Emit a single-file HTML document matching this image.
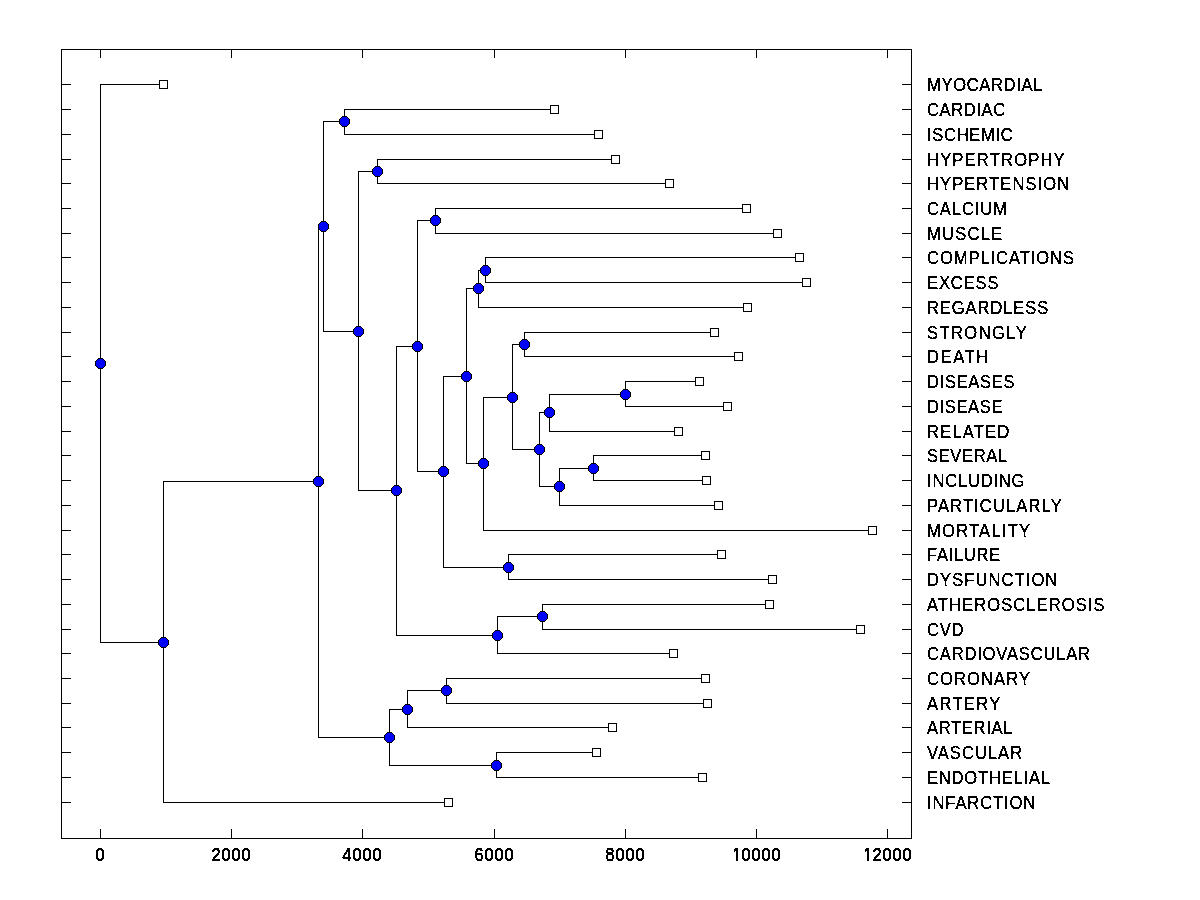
<!DOCTYPE html>
<html><head><meta charset="utf-8"><title>Dendrogram</title>
<style>html,body{margin:0;padding:0;background:#fff;width:1200px;height:900px;overflow:hidden}svg{display:block}</style>
</head><body>
<svg width="1200" height="900" viewBox="0 0 1200 900">
<rect width="1200" height="900" fill="#fff"/>
<g shape-rendering="crispEdges" fill="none" stroke="#000" stroke-width="1">
<rect x="61.5" y="49.5" width="850" height="789"/>
<path d="M100.5 49V58M100.5 839V829M231.5 49V58M231.5 839V829M362.5 49V58M362.5 839V829M494.5 49V58M494.5 839V829M625.5 49V58M625.5 839V829M756.5 49V58M756.5 839V829M887.5 49V58M887.5 839V829M61 84.5H71M912 84.5H902M61 109.5H71M912 109.5H902M61 134.5H71M912 134.5H902M61 159.5H71M912 159.5H902M61 183.5H71M912 183.5H902M61 208.5H71M912 208.5H902M61 233.5H71M912 233.5H902M61 257.5H71M912 257.5H902M61 282.5H71M912 282.5H902M61 307.5H71M912 307.5H902M61 332.5H71M912 332.5H902M61 356.5H71M912 356.5H902M61 381.5H71M912 381.5H902M61 406.5H71M912 406.5H902M61 431.5H71M912 431.5H902M61 455.5H71M912 455.5H902M61 480.5H71M912 480.5H902M61 505.5H71M912 505.5H902M61 530.5H71M912 530.5H902M61 554.5H71M912 554.5H902M61 579.5H71M912 579.5H902M61 604.5H71M912 604.5H902M61 629.5H71M912 629.5H902M61 653.5H71M912 653.5H902M61 678.5H71M912 678.5H902M61 703.5H71M912 703.5H902M61 727.5H71M912 727.5H902M61 752.5H71M912 752.5H902M61 777.5H71M912 777.5H902M61 802.5H71M912 802.5H902"/>
<path stroke-linecap="square" d="M100.5 84.5V642.5M100.5 84.5H163.5M100.5 642.5H163.5M163.5 481.5V802.5M163.5 481.5H318.5M163.5 802.5H448.5M318.5 226.5V737.5M318.5 226.5H323.5M318.5 737.5H389.5M323.5 121.5V331.5M323.5 121.5H344.5M323.5 331.5H358.5M344.5 109.5V134.5M344.5 109.5H554.5M344.5 134.5H598.5M358.5 171.5V490.5M358.5 171.5H377.5M358.5 490.5H396.5M377.5 159.5V183.5M377.5 159.5H615.5M377.5 183.5H669.5M396.5 346.5V635.5M396.5 346.5H417.5M396.5 635.5H497.5M417.5 220.5V471.5M417.5 220.5H435.5M417.5 471.5H443.5M435.5 208.5V233.5M435.5 208.5H746.5M435.5 233.5H777.5M443.5 376.5V567.5M443.5 376.5H466.5M443.5 567.5H508.5M508.5 554.5V579.5M508.5 554.5H721.5M508.5 579.5H772.5M466.5 288.5V463.5M466.5 288.5H478.5M466.5 463.5H483.5M478.5 270.5V307.5M478.5 270.5H485.5M478.5 307.5H747.5M485.5 257.5V282.5M485.5 257.5H799.5M485.5 282.5H806.5M483.5 397.5V530.5M483.5 397.5H512.5M483.5 530.5H872.5M512.5 344.5V449.5M512.5 344.5H524.5M512.5 449.5H539.5M524.5 332.5V356.5M524.5 332.5H714.5M524.5 356.5H738.5M539.5 412.5V486.5M539.5 412.5H549.5M539.5 486.5H559.5M549.5 394.5V431.5M549.5 394.5H625.5M549.5 431.5H678.5M625.5 381.5V406.5M625.5 381.5H699.5M625.5 406.5H727.5M559.5 468.5V505.5M559.5 468.5H593.5M559.5 505.5H718.5M593.5 455.5V480.5M593.5 455.5H705.5M593.5 480.5H706.5M497.5 616.5V653.5M497.5 616.5H542.5M497.5 653.5H673.5M542.5 604.5V629.5M542.5 604.5H769.5M542.5 629.5H860.5M389.5 709.5V765.5M389.5 709.5H407.5M389.5 765.5H496.5M407.5 690.5V727.5M407.5 690.5H446.5M407.5 727.5H612.5M446.5 678.5V703.5M446.5 678.5H705.5M446.5 703.5H707.5M496.5 752.5V777.5M496.5 752.5H596.5M496.5 777.5H702.5"/>
</g>
<g shape-rendering="crispEdges" fill="#fff" stroke="#000" stroke-width="1">
<rect x="159.5" y="80.5" width="8" height="8"/><rect x="550.5" y="105.5" width="8" height="8"/><rect x="594.5" y="130.5" width="8" height="8"/><rect x="611.5" y="155.5" width="8" height="8"/><rect x="665.5" y="179.5" width="8" height="8"/><rect x="742.5" y="204.5" width="8" height="8"/><rect x="773.5" y="229.5" width="8" height="8"/><rect x="795.5" y="253.5" width="8" height="8"/><rect x="802.5" y="278.5" width="8" height="8"/><rect x="743.5" y="303.5" width="8" height="8"/><rect x="710.5" y="328.5" width="8" height="8"/><rect x="734.5" y="352.5" width="8" height="8"/><rect x="695.5" y="377.5" width="8" height="8"/><rect x="723.5" y="402.5" width="8" height="8"/><rect x="674.5" y="427.5" width="8" height="8"/><rect x="701.5" y="451.5" width="8" height="8"/><rect x="702.5" y="476.5" width="8" height="8"/><rect x="714.5" y="501.5" width="8" height="8"/><rect x="868.5" y="526.5" width="8" height="8"/><rect x="717.5" y="550.5" width="8" height="8"/><rect x="768.5" y="575.5" width="8" height="8"/><rect x="765.5" y="600.5" width="8" height="8"/><rect x="856.5" y="625.5" width="8" height="8"/><rect x="669.5" y="649.5" width="8" height="8"/><rect x="701.5" y="674.5" width="8" height="8"/><rect x="703.5" y="699.5" width="8" height="8"/><rect x="608.5" y="723.5" width="8" height="8"/><rect x="592.5" y="748.5" width="8" height="8"/><rect x="698.5" y="773.5" width="8" height="8"/><rect x="444.5" y="798.5" width="8" height="8"/>
</g>
<g shape-rendering="crispEdges" stroke="none">
<path fill="#000" d="M98 358 L98 359 L97 359 L97 360 L96 360 L96 361 L95 361 L95 362 L95 362 L95 363 L95 363 L95 364 L95 364 L95 365 L95 365 L95 366 L96 366 L96 367 L97 367 L97 368 L98 368 L98 369 L103 369 L103 368 L104 368 L104 367 L105 367 L105 366 L106 366 L106 365 L106 365 L106 364 L106 364 L106 363 L106 363 L106 362 L106 362 L106 361 L105 361 L105 360 L104 360 L104 359 L103 359 L103 358ZM161 637 L161 638 L160 638 L160 639 L159 639 L159 640 L158 640 L158 641 L158 641 L158 642 L158 642 L158 643 L158 643 L158 644 L158 644 L158 645 L159 645 L159 646 L160 646 L160 647 L161 647 L161 648 L166 648 L166 647 L167 647 L167 646 L168 646 L168 645 L169 645 L169 644 L169 644 L169 643 L169 643 L169 642 L169 642 L169 641 L169 641 L169 640 L168 640 L168 639 L167 639 L167 638 L166 638 L166 637ZM316 476 L316 477 L315 477 L315 478 L314 478 L314 479 L313 479 L313 480 L313 480 L313 481 L313 481 L313 482 L313 482 L313 483 L313 483 L313 484 L314 484 L314 485 L315 485 L315 486 L316 486 L316 487 L321 487 L321 486 L322 486 L322 485 L323 485 L323 484 L324 484 L324 483 L324 483 L324 482 L324 482 L324 481 L324 481 L324 480 L324 480 L324 479 L323 479 L323 478 L322 478 L322 477 L321 477 L321 476ZM321 221 L321 222 L320 222 L320 223 L319 223 L319 224 L318 224 L318 225 L318 225 L318 226 L318 226 L318 227 L318 227 L318 228 L318 228 L318 229 L319 229 L319 230 L320 230 L320 231 L321 231 L321 232 L326 232 L326 231 L327 231 L327 230 L328 230 L328 229 L329 229 L329 228 L329 228 L329 227 L329 227 L329 226 L329 226 L329 225 L329 225 L329 224 L328 224 L328 223 L327 223 L327 222 L326 222 L326 221ZM342 116 L342 117 L341 117 L341 118 L340 118 L340 119 L339 119 L339 120 L339 120 L339 121 L339 121 L339 122 L339 122 L339 123 L339 123 L339 124 L340 124 L340 125 L341 125 L341 126 L342 126 L342 127 L347 127 L347 126 L348 126 L348 125 L349 125 L349 124 L350 124 L350 123 L350 123 L350 122 L350 122 L350 121 L350 121 L350 120 L350 120 L350 119 L349 119 L349 118 L348 118 L348 117 L347 117 L347 116ZM356 326 L356 327 L355 327 L355 328 L354 328 L354 329 L353 329 L353 330 L353 330 L353 331 L353 331 L353 332 L353 332 L353 333 L353 333 L353 334 L354 334 L354 335 L355 335 L355 336 L356 336 L356 337 L361 337 L361 336 L362 336 L362 335 L363 335 L363 334 L364 334 L364 333 L364 333 L364 332 L364 332 L364 331 L364 331 L364 330 L364 330 L364 329 L363 329 L363 328 L362 328 L362 327 L361 327 L361 326ZM375 166 L375 167 L374 167 L374 168 L373 168 L373 169 L372 169 L372 170 L372 170 L372 171 L372 171 L372 172 L372 172 L372 173 L372 173 L372 174 L373 174 L373 175 L374 175 L374 176 L375 176 L375 177 L380 177 L380 176 L381 176 L381 175 L382 175 L382 174 L383 174 L383 173 L383 173 L383 172 L383 172 L383 171 L383 171 L383 170 L383 170 L383 169 L382 169 L382 168 L381 168 L381 167 L380 167 L380 166ZM394 485 L394 486 L393 486 L393 487 L392 487 L392 488 L391 488 L391 489 L391 489 L391 490 L391 490 L391 491 L391 491 L391 492 L391 492 L391 493 L392 493 L392 494 L393 494 L393 495 L394 495 L394 496 L399 496 L399 495 L400 495 L400 494 L401 494 L401 493 L402 493 L402 492 L402 492 L402 491 L402 491 L402 490 L402 490 L402 489 L402 489 L402 488 L401 488 L401 487 L400 487 L400 486 L399 486 L399 485ZM415 341 L415 342 L414 342 L414 343 L413 343 L413 344 L412 344 L412 345 L412 345 L412 346 L412 346 L412 347 L412 347 L412 348 L412 348 L412 349 L413 349 L413 350 L414 350 L414 351 L415 351 L415 352 L420 352 L420 351 L421 351 L421 350 L422 350 L422 349 L423 349 L423 348 L423 348 L423 347 L423 347 L423 346 L423 346 L423 345 L423 345 L423 344 L422 344 L422 343 L421 343 L421 342 L420 342 L420 341ZM433 215 L433 216 L432 216 L432 217 L431 217 L431 218 L430 218 L430 219 L430 219 L430 220 L430 220 L430 221 L430 221 L430 222 L430 222 L430 223 L431 223 L431 224 L432 224 L432 225 L433 225 L433 226 L438 226 L438 225 L439 225 L439 224 L440 224 L440 223 L441 223 L441 222 L441 222 L441 221 L441 221 L441 220 L441 220 L441 219 L441 219 L441 218 L440 218 L440 217 L439 217 L439 216 L438 216 L438 215ZM441 466 L441 467 L440 467 L440 468 L439 468 L439 469 L438 469 L438 470 L438 470 L438 471 L438 471 L438 472 L438 472 L438 473 L438 473 L438 474 L439 474 L439 475 L440 475 L440 476 L441 476 L441 477 L446 477 L446 476 L447 476 L447 475 L448 475 L448 474 L449 474 L449 473 L449 473 L449 472 L449 472 L449 471 L449 471 L449 470 L449 470 L449 469 L448 469 L448 468 L447 468 L447 467 L446 467 L446 466ZM506 562 L506 563 L505 563 L505 564 L504 564 L504 565 L503 565 L503 566 L503 566 L503 567 L503 567 L503 568 L503 568 L503 569 L503 569 L503 570 L504 570 L504 571 L505 571 L505 572 L506 572 L506 573 L511 573 L511 572 L512 572 L512 571 L513 571 L513 570 L514 570 L514 569 L514 569 L514 568 L514 568 L514 567 L514 567 L514 566 L514 566 L514 565 L513 565 L513 564 L512 564 L512 563 L511 563 L511 562ZM464 371 L464 372 L463 372 L463 373 L462 373 L462 374 L461 374 L461 375 L461 375 L461 376 L461 376 L461 377 L461 377 L461 378 L461 378 L461 379 L462 379 L462 380 L463 380 L463 381 L464 381 L464 382 L469 382 L469 381 L470 381 L470 380 L471 380 L471 379 L472 379 L472 378 L472 378 L472 377 L472 377 L472 376 L472 376 L472 375 L472 375 L472 374 L471 374 L471 373 L470 373 L470 372 L469 372 L469 371ZM476 283 L476 284 L475 284 L475 285 L474 285 L474 286 L473 286 L473 287 L473 287 L473 288 L473 288 L473 289 L473 289 L473 290 L473 290 L473 291 L474 291 L474 292 L475 292 L475 293 L476 293 L476 294 L481 294 L481 293 L482 293 L482 292 L483 292 L483 291 L484 291 L484 290 L484 290 L484 289 L484 289 L484 288 L484 288 L484 287 L484 287 L484 286 L483 286 L483 285 L482 285 L482 284 L481 284 L481 283ZM483 265 L483 266 L482 266 L482 267 L481 267 L481 268 L480 268 L480 269 L480 269 L480 270 L480 270 L480 271 L480 271 L480 272 L480 272 L480 273 L481 273 L481 274 L482 274 L482 275 L483 275 L483 276 L488 276 L488 275 L489 275 L489 274 L490 274 L490 273 L491 273 L491 272 L491 272 L491 271 L491 271 L491 270 L491 270 L491 269 L491 269 L491 268 L490 268 L490 267 L489 267 L489 266 L488 266 L488 265ZM481 458 L481 459 L480 459 L480 460 L479 460 L479 461 L478 461 L478 462 L478 462 L478 463 L478 463 L478 464 L478 464 L478 465 L478 465 L478 466 L479 466 L479 467 L480 467 L480 468 L481 468 L481 469 L486 469 L486 468 L487 468 L487 467 L488 467 L488 466 L489 466 L489 465 L489 465 L489 464 L489 464 L489 463 L489 463 L489 462 L489 462 L489 461 L488 461 L488 460 L487 460 L487 459 L486 459 L486 458ZM510 392 L510 393 L509 393 L509 394 L508 394 L508 395 L507 395 L507 396 L507 396 L507 397 L507 397 L507 398 L507 398 L507 399 L507 399 L507 400 L508 400 L508 401 L509 401 L509 402 L510 402 L510 403 L515 403 L515 402 L516 402 L516 401 L517 401 L517 400 L518 400 L518 399 L518 399 L518 398 L518 398 L518 397 L518 397 L518 396 L518 396 L518 395 L517 395 L517 394 L516 394 L516 393 L515 393 L515 392ZM522 339 L522 340 L521 340 L521 341 L520 341 L520 342 L519 342 L519 343 L519 343 L519 344 L519 344 L519 345 L519 345 L519 346 L519 346 L519 347 L520 347 L520 348 L521 348 L521 349 L522 349 L522 350 L527 350 L527 349 L528 349 L528 348 L529 348 L529 347 L530 347 L530 346 L530 346 L530 345 L530 345 L530 344 L530 344 L530 343 L530 343 L530 342 L529 342 L529 341 L528 341 L528 340 L527 340 L527 339ZM537 444 L537 445 L536 445 L536 446 L535 446 L535 447 L534 447 L534 448 L534 448 L534 449 L534 449 L534 450 L534 450 L534 451 L534 451 L534 452 L535 452 L535 453 L536 453 L536 454 L537 454 L537 455 L542 455 L542 454 L543 454 L543 453 L544 453 L544 452 L545 452 L545 451 L545 451 L545 450 L545 450 L545 449 L545 449 L545 448 L545 448 L545 447 L544 447 L544 446 L543 446 L543 445 L542 445 L542 444ZM547 407 L547 408 L546 408 L546 409 L545 409 L545 410 L544 410 L544 411 L544 411 L544 412 L544 412 L544 413 L544 413 L544 414 L544 414 L544 415 L545 415 L545 416 L546 416 L546 417 L547 417 L547 418 L552 418 L552 417 L553 417 L553 416 L554 416 L554 415 L555 415 L555 414 L555 414 L555 413 L555 413 L555 412 L555 412 L555 411 L555 411 L555 410 L554 410 L554 409 L553 409 L553 408 L552 408 L552 407ZM623 389 L623 390 L622 390 L622 391 L621 391 L621 392 L620 392 L620 393 L620 393 L620 394 L620 394 L620 395 L620 395 L620 396 L620 396 L620 397 L621 397 L621 398 L622 398 L622 399 L623 399 L623 400 L628 400 L628 399 L629 399 L629 398 L630 398 L630 397 L631 397 L631 396 L631 396 L631 395 L631 395 L631 394 L631 394 L631 393 L631 393 L631 392 L630 392 L630 391 L629 391 L629 390 L628 390 L628 389ZM557 481 L557 482 L556 482 L556 483 L555 483 L555 484 L554 484 L554 485 L554 485 L554 486 L554 486 L554 487 L554 487 L554 488 L554 488 L554 489 L555 489 L555 490 L556 490 L556 491 L557 491 L557 492 L562 492 L562 491 L563 491 L563 490 L564 490 L564 489 L565 489 L565 488 L565 488 L565 487 L565 487 L565 486 L565 486 L565 485 L565 485 L565 484 L564 484 L564 483 L563 483 L563 482 L562 482 L562 481ZM591 463 L591 464 L590 464 L590 465 L589 465 L589 466 L588 466 L588 467 L588 467 L588 468 L588 468 L588 469 L588 469 L588 470 L588 470 L588 471 L589 471 L589 472 L590 472 L590 473 L591 473 L591 474 L596 474 L596 473 L597 473 L597 472 L598 472 L598 471 L599 471 L599 470 L599 470 L599 469 L599 469 L599 468 L599 468 L599 467 L599 467 L599 466 L598 466 L598 465 L597 465 L597 464 L596 464 L596 463ZM495 630 L495 631 L494 631 L494 632 L493 632 L493 633 L492 633 L492 634 L492 634 L492 635 L492 635 L492 636 L492 636 L492 637 L492 637 L492 638 L493 638 L493 639 L494 639 L494 640 L495 640 L495 641 L500 641 L500 640 L501 640 L501 639 L502 639 L502 638 L503 638 L503 637 L503 637 L503 636 L503 636 L503 635 L503 635 L503 634 L503 634 L503 633 L502 633 L502 632 L501 632 L501 631 L500 631 L500 630ZM540 611 L540 612 L539 612 L539 613 L538 613 L538 614 L537 614 L537 615 L537 615 L537 616 L537 616 L537 617 L537 617 L537 618 L537 618 L537 619 L538 619 L538 620 L539 620 L539 621 L540 621 L540 622 L545 622 L545 621 L546 621 L546 620 L547 620 L547 619 L548 619 L548 618 L548 618 L548 617 L548 617 L548 616 L548 616 L548 615 L548 615 L548 614 L547 614 L547 613 L546 613 L546 612 L545 612 L545 611ZM387 732 L387 733 L386 733 L386 734 L385 734 L385 735 L384 735 L384 736 L384 736 L384 737 L384 737 L384 738 L384 738 L384 739 L384 739 L384 740 L385 740 L385 741 L386 741 L386 742 L387 742 L387 743 L392 743 L392 742 L393 742 L393 741 L394 741 L394 740 L395 740 L395 739 L395 739 L395 738 L395 738 L395 737 L395 737 L395 736 L395 736 L395 735 L394 735 L394 734 L393 734 L393 733 L392 733 L392 732ZM405 704 L405 705 L404 705 L404 706 L403 706 L403 707 L402 707 L402 708 L402 708 L402 709 L402 709 L402 710 L402 710 L402 711 L402 711 L402 712 L403 712 L403 713 L404 713 L404 714 L405 714 L405 715 L410 715 L410 714 L411 714 L411 713 L412 713 L412 712 L413 712 L413 711 L413 711 L413 710 L413 710 L413 709 L413 709 L413 708 L413 708 L413 707 L412 707 L412 706 L411 706 L411 705 L410 705 L410 704ZM444 685 L444 686 L443 686 L443 687 L442 687 L442 688 L441 688 L441 689 L441 689 L441 690 L441 690 L441 691 L441 691 L441 692 L441 692 L441 693 L442 693 L442 694 L443 694 L443 695 L444 695 L444 696 L449 696 L449 695 L450 695 L450 694 L451 694 L451 693 L452 693 L452 692 L452 692 L452 691 L452 691 L452 690 L452 690 L452 689 L452 689 L452 688 L451 688 L451 687 L450 687 L450 686 L449 686 L449 685ZM494 760 L494 761 L493 761 L493 762 L492 762 L492 763 L491 763 L491 764 L491 764 L491 765 L491 765 L491 766 L491 766 L491 767 L491 767 L491 768 L492 768 L492 769 L493 769 L493 770 L494 770 L494 771 L499 771 L499 770 L500 770 L500 769 L501 769 L501 768 L502 768 L502 767 L502 767 L502 766 L502 766 L502 765 L502 765 L502 764 L502 764 L502 763 L501 763 L501 762 L500 762 L500 761 L499 761 L499 760Z"/>
<path fill="#00f" d="M98 359 L98 360 L97 360 L97 361 L96 361 L96 362 L96 362 L96 363 L96 363 L96 364 L96 364 L96 365 L96 365 L96 366 L97 366 L97 367 L98 367 L98 368 L103 368 L103 367 L104 367 L104 366 L105 366 L105 365 L105 365 L105 364 L105 364 L105 363 L105 363 L105 362 L105 362 L105 361 L104 361 L104 360 L103 360 L103 359ZM161 638 L161 639 L160 639 L160 640 L159 640 L159 641 L159 641 L159 642 L159 642 L159 643 L159 643 L159 644 L159 644 L159 645 L160 645 L160 646 L161 646 L161 647 L166 647 L166 646 L167 646 L167 645 L168 645 L168 644 L168 644 L168 643 L168 643 L168 642 L168 642 L168 641 L168 641 L168 640 L167 640 L167 639 L166 639 L166 638ZM316 477 L316 478 L315 478 L315 479 L314 479 L314 480 L314 480 L314 481 L314 481 L314 482 L314 482 L314 483 L314 483 L314 484 L315 484 L315 485 L316 485 L316 486 L321 486 L321 485 L322 485 L322 484 L323 484 L323 483 L323 483 L323 482 L323 482 L323 481 L323 481 L323 480 L323 480 L323 479 L322 479 L322 478 L321 478 L321 477ZM321 222 L321 223 L320 223 L320 224 L319 224 L319 225 L319 225 L319 226 L319 226 L319 227 L319 227 L319 228 L319 228 L319 229 L320 229 L320 230 L321 230 L321 231 L326 231 L326 230 L327 230 L327 229 L328 229 L328 228 L328 228 L328 227 L328 227 L328 226 L328 226 L328 225 L328 225 L328 224 L327 224 L327 223 L326 223 L326 222ZM342 117 L342 118 L341 118 L341 119 L340 119 L340 120 L340 120 L340 121 L340 121 L340 122 L340 122 L340 123 L340 123 L340 124 L341 124 L341 125 L342 125 L342 126 L347 126 L347 125 L348 125 L348 124 L349 124 L349 123 L349 123 L349 122 L349 122 L349 121 L349 121 L349 120 L349 120 L349 119 L348 119 L348 118 L347 118 L347 117ZM356 327 L356 328 L355 328 L355 329 L354 329 L354 330 L354 330 L354 331 L354 331 L354 332 L354 332 L354 333 L354 333 L354 334 L355 334 L355 335 L356 335 L356 336 L361 336 L361 335 L362 335 L362 334 L363 334 L363 333 L363 333 L363 332 L363 332 L363 331 L363 331 L363 330 L363 330 L363 329 L362 329 L362 328 L361 328 L361 327ZM375 167 L375 168 L374 168 L374 169 L373 169 L373 170 L373 170 L373 171 L373 171 L373 172 L373 172 L373 173 L373 173 L373 174 L374 174 L374 175 L375 175 L375 176 L380 176 L380 175 L381 175 L381 174 L382 174 L382 173 L382 173 L382 172 L382 172 L382 171 L382 171 L382 170 L382 170 L382 169 L381 169 L381 168 L380 168 L380 167ZM394 486 L394 487 L393 487 L393 488 L392 488 L392 489 L392 489 L392 490 L392 490 L392 491 L392 491 L392 492 L392 492 L392 493 L393 493 L393 494 L394 494 L394 495 L399 495 L399 494 L400 494 L400 493 L401 493 L401 492 L401 492 L401 491 L401 491 L401 490 L401 490 L401 489 L401 489 L401 488 L400 488 L400 487 L399 487 L399 486ZM415 342 L415 343 L414 343 L414 344 L413 344 L413 345 L413 345 L413 346 L413 346 L413 347 L413 347 L413 348 L413 348 L413 349 L414 349 L414 350 L415 350 L415 351 L420 351 L420 350 L421 350 L421 349 L422 349 L422 348 L422 348 L422 347 L422 347 L422 346 L422 346 L422 345 L422 345 L422 344 L421 344 L421 343 L420 343 L420 342ZM433 216 L433 217 L432 217 L432 218 L431 218 L431 219 L431 219 L431 220 L431 220 L431 221 L431 221 L431 222 L431 222 L431 223 L432 223 L432 224 L433 224 L433 225 L438 225 L438 224 L439 224 L439 223 L440 223 L440 222 L440 222 L440 221 L440 221 L440 220 L440 220 L440 219 L440 219 L440 218 L439 218 L439 217 L438 217 L438 216ZM441 467 L441 468 L440 468 L440 469 L439 469 L439 470 L439 470 L439 471 L439 471 L439 472 L439 472 L439 473 L439 473 L439 474 L440 474 L440 475 L441 475 L441 476 L446 476 L446 475 L447 475 L447 474 L448 474 L448 473 L448 473 L448 472 L448 472 L448 471 L448 471 L448 470 L448 470 L448 469 L447 469 L447 468 L446 468 L446 467ZM506 563 L506 564 L505 564 L505 565 L504 565 L504 566 L504 566 L504 567 L504 567 L504 568 L504 568 L504 569 L504 569 L504 570 L505 570 L505 571 L506 571 L506 572 L511 572 L511 571 L512 571 L512 570 L513 570 L513 569 L513 569 L513 568 L513 568 L513 567 L513 567 L513 566 L513 566 L513 565 L512 565 L512 564 L511 564 L511 563ZM464 372 L464 373 L463 373 L463 374 L462 374 L462 375 L462 375 L462 376 L462 376 L462 377 L462 377 L462 378 L462 378 L462 379 L463 379 L463 380 L464 380 L464 381 L469 381 L469 380 L470 380 L470 379 L471 379 L471 378 L471 378 L471 377 L471 377 L471 376 L471 376 L471 375 L471 375 L471 374 L470 374 L470 373 L469 373 L469 372ZM476 284 L476 285 L475 285 L475 286 L474 286 L474 287 L474 287 L474 288 L474 288 L474 289 L474 289 L474 290 L474 290 L474 291 L475 291 L475 292 L476 292 L476 293 L481 293 L481 292 L482 292 L482 291 L483 291 L483 290 L483 290 L483 289 L483 289 L483 288 L483 288 L483 287 L483 287 L483 286 L482 286 L482 285 L481 285 L481 284ZM483 266 L483 267 L482 267 L482 268 L481 268 L481 269 L481 269 L481 270 L481 270 L481 271 L481 271 L481 272 L481 272 L481 273 L482 273 L482 274 L483 274 L483 275 L488 275 L488 274 L489 274 L489 273 L490 273 L490 272 L490 272 L490 271 L490 271 L490 270 L490 270 L490 269 L490 269 L490 268 L489 268 L489 267 L488 267 L488 266ZM481 459 L481 460 L480 460 L480 461 L479 461 L479 462 L479 462 L479 463 L479 463 L479 464 L479 464 L479 465 L479 465 L479 466 L480 466 L480 467 L481 467 L481 468 L486 468 L486 467 L487 467 L487 466 L488 466 L488 465 L488 465 L488 464 L488 464 L488 463 L488 463 L488 462 L488 462 L488 461 L487 461 L487 460 L486 460 L486 459ZM510 393 L510 394 L509 394 L509 395 L508 395 L508 396 L508 396 L508 397 L508 397 L508 398 L508 398 L508 399 L508 399 L508 400 L509 400 L509 401 L510 401 L510 402 L515 402 L515 401 L516 401 L516 400 L517 400 L517 399 L517 399 L517 398 L517 398 L517 397 L517 397 L517 396 L517 396 L517 395 L516 395 L516 394 L515 394 L515 393ZM522 340 L522 341 L521 341 L521 342 L520 342 L520 343 L520 343 L520 344 L520 344 L520 345 L520 345 L520 346 L520 346 L520 347 L521 347 L521 348 L522 348 L522 349 L527 349 L527 348 L528 348 L528 347 L529 347 L529 346 L529 346 L529 345 L529 345 L529 344 L529 344 L529 343 L529 343 L529 342 L528 342 L528 341 L527 341 L527 340ZM537 445 L537 446 L536 446 L536 447 L535 447 L535 448 L535 448 L535 449 L535 449 L535 450 L535 450 L535 451 L535 451 L535 452 L536 452 L536 453 L537 453 L537 454 L542 454 L542 453 L543 453 L543 452 L544 452 L544 451 L544 451 L544 450 L544 450 L544 449 L544 449 L544 448 L544 448 L544 447 L543 447 L543 446 L542 446 L542 445ZM547 408 L547 409 L546 409 L546 410 L545 410 L545 411 L545 411 L545 412 L545 412 L545 413 L545 413 L545 414 L545 414 L545 415 L546 415 L546 416 L547 416 L547 417 L552 417 L552 416 L553 416 L553 415 L554 415 L554 414 L554 414 L554 413 L554 413 L554 412 L554 412 L554 411 L554 411 L554 410 L553 410 L553 409 L552 409 L552 408ZM623 390 L623 391 L622 391 L622 392 L621 392 L621 393 L621 393 L621 394 L621 394 L621 395 L621 395 L621 396 L621 396 L621 397 L622 397 L622 398 L623 398 L623 399 L628 399 L628 398 L629 398 L629 397 L630 397 L630 396 L630 396 L630 395 L630 395 L630 394 L630 394 L630 393 L630 393 L630 392 L629 392 L629 391 L628 391 L628 390ZM557 482 L557 483 L556 483 L556 484 L555 484 L555 485 L555 485 L555 486 L555 486 L555 487 L555 487 L555 488 L555 488 L555 489 L556 489 L556 490 L557 490 L557 491 L562 491 L562 490 L563 490 L563 489 L564 489 L564 488 L564 488 L564 487 L564 487 L564 486 L564 486 L564 485 L564 485 L564 484 L563 484 L563 483 L562 483 L562 482ZM591 464 L591 465 L590 465 L590 466 L589 466 L589 467 L589 467 L589 468 L589 468 L589 469 L589 469 L589 470 L589 470 L589 471 L590 471 L590 472 L591 472 L591 473 L596 473 L596 472 L597 472 L597 471 L598 471 L598 470 L598 470 L598 469 L598 469 L598 468 L598 468 L598 467 L598 467 L598 466 L597 466 L597 465 L596 465 L596 464ZM495 631 L495 632 L494 632 L494 633 L493 633 L493 634 L493 634 L493 635 L493 635 L493 636 L493 636 L493 637 L493 637 L493 638 L494 638 L494 639 L495 639 L495 640 L500 640 L500 639 L501 639 L501 638 L502 638 L502 637 L502 637 L502 636 L502 636 L502 635 L502 635 L502 634 L502 634 L502 633 L501 633 L501 632 L500 632 L500 631ZM540 612 L540 613 L539 613 L539 614 L538 614 L538 615 L538 615 L538 616 L538 616 L538 617 L538 617 L538 618 L538 618 L538 619 L539 619 L539 620 L540 620 L540 621 L545 621 L545 620 L546 620 L546 619 L547 619 L547 618 L547 618 L547 617 L547 617 L547 616 L547 616 L547 615 L547 615 L547 614 L546 614 L546 613 L545 613 L545 612ZM387 733 L387 734 L386 734 L386 735 L385 735 L385 736 L385 736 L385 737 L385 737 L385 738 L385 738 L385 739 L385 739 L385 740 L386 740 L386 741 L387 741 L387 742 L392 742 L392 741 L393 741 L393 740 L394 740 L394 739 L394 739 L394 738 L394 738 L394 737 L394 737 L394 736 L394 736 L394 735 L393 735 L393 734 L392 734 L392 733ZM405 705 L405 706 L404 706 L404 707 L403 707 L403 708 L403 708 L403 709 L403 709 L403 710 L403 710 L403 711 L403 711 L403 712 L404 712 L404 713 L405 713 L405 714 L410 714 L410 713 L411 713 L411 712 L412 712 L412 711 L412 711 L412 710 L412 710 L412 709 L412 709 L412 708 L412 708 L412 707 L411 707 L411 706 L410 706 L410 705ZM444 686 L444 687 L443 687 L443 688 L442 688 L442 689 L442 689 L442 690 L442 690 L442 691 L442 691 L442 692 L442 692 L442 693 L443 693 L443 694 L444 694 L444 695 L449 695 L449 694 L450 694 L450 693 L451 693 L451 692 L451 692 L451 691 L451 691 L451 690 L451 690 L451 689 L451 689 L451 688 L450 688 L450 687 L449 687 L449 686ZM494 761 L494 762 L493 762 L493 763 L492 763 L492 764 L492 764 L492 765 L492 765 L492 766 L492 766 L492 767 L492 767 L492 768 L493 768 L493 769 L494 769 L494 770 L499 770 L499 769 L500 769 L500 768 L501 768 L501 767 L501 767 L501 766 L501 766 L501 765 L501 765 L501 764 L501 764 L501 763 L500 763 L500 762 L499 762 L499 761Z"/>
</g>
<defs><filter id="th" x="0" y="0" width="1" height="1" color-interpolation-filters="sRGB"><feComponentTransfer><feFuncA type="discrete" tableValues="0 1"/></feComponentTransfer></filter>
<filter id="th2" x="0" y="0" width="1" height="1" color-interpolation-filters="sRGB"><feComponentTransfer><feFuncA type="discrete" tableValues="0 1 1"/></feComponentTransfer></filter></defs>
<g font-family="'Liberation Sans', Arial, sans-serif" font-size="18" fill="#000" stroke="#000" stroke-width="0.3" filter="url(#th2)">
<text transform="scale(0.9 1)" x="106.111" y="861.0">0</text><text transform="scale(0.9 1)" x="235.000 246.111 257.222 268.333" y="861.0">2000</text><text transform="scale(0.9 1)" x="380.556 391.667 402.778 413.889" y="861.0">4000</text><text transform="scale(0.9 1)" x="527.222 538.333 549.444 560.556" y="861.0">6000</text><text transform="scale(0.9 1)" x="672.778 683.889 695.000 706.111" y="861.0">8000</text><text transform="scale(0.9 1)" x="812.778 823.889 835.000 846.111 857.222" y="861.0"><tspan font-family="NanumGothic, 'Liberation Sans', sans-serif">1</tspan>0000</text><text transform="scale(0.9 1)" x="958.333 969.444 980.556 991.667 1002.778" y="861.0"><tspan font-family="NanumGothic, 'Liberation Sans', sans-serif">1</tspan>2000</text>
</g>
<g font-family="'Liberation Sans', Arial, sans-serif" font-size="17.5" fill="#000" stroke="#000" stroke-width="0.3" filter="url(#th)">
<text transform="scale(0.95 1)" x="975.789" y="91.0" textLength="121.435" lengthAdjust="spacing">MYOCARDIAL</text><text transform="scale(0.95 1)" x="975.789" y="116.0" textLength="82.360" lengthAdjust="spacing">CARDIAC</text><text transform="scale(0.95 1)" x="975.789" y="141.0" textLength="90.281" lengthAdjust="spacing">ISCHEMIC</text><text transform="scale(0.95 1)" x="975.789" y="166.0" textLength="144.903" lengthAdjust="spacing">HYPERTROPHY</text><text transform="scale(0.95 1)" x="975.789" y="190.0" textLength="149.656" lengthAdjust="spacing">HYPERTENSION</text><text transform="scale(0.95 1)" x="975.789" y="215.0" textLength="84.202" lengthAdjust="spacing">CALCIUM</text><text transform="scale(0.95 1)" x="975.789" y="240.0" textLength="79.160" lengthAdjust="spacing">MUSCLE</text><text transform="scale(0.95 1)" x="975.789" y="264.0" textLength="154.818" lengthAdjust="spacing">COMPLICATIONS</text><text transform="scale(0.95 1)" x="975.789" y="289.0" textLength="75.343" lengthAdjust="spacing">EXCESS</text><text transform="scale(0.95 1)" x="975.789" y="314.0" textLength="127.667" lengthAdjust="spacing">REGARDLESS</text><text transform="scale(0.95 1)" x="975.789" y="339.0" textLength="105.082" lengthAdjust="spacing">STRONGLY</text><text transform="scale(0.95 1)" x="975.789" y="363.0" textLength="64.525" lengthAdjust="spacing">DEATH</text><text transform="scale(0.95 1)" x="975.789" y="388.0" textLength="92.251" lengthAdjust="spacing">DISEASES</text><text transform="scale(0.95 1)" x="975.789" y="413.0" textLength="79.461" lengthAdjust="spacing">DISEASE</text><text transform="scale(0.95 1)" x="975.789" y="438.0" textLength="86.685" lengthAdjust="spacing">RELATED</text><text transform="scale(0.95 1)" x="975.789" y="462.0" textLength="84.331" lengthAdjust="spacing">SEVERAL</text><text transform="scale(0.95 1)" x="975.789" y="487.0" textLength="102.667" lengthAdjust="spacing">INCLUDING</text><text transform="scale(0.95 1)" x="975.789" y="512.0" textLength="141.820" lengthAdjust="spacing">PARTICULARLY</text><text transform="scale(0.95 1)" x="975.789" y="537.0" textLength="108.479" lengthAdjust="spacing">MORTALITY</text><text transform="scale(0.95 1)" x="975.789" y="561.0" textLength="77.159" lengthAdjust="spacing">FAILURE</text><text transform="scale(0.95 1)" x="975.789" y="586.0" textLength="137.241" lengthAdjust="spacing">DYSFUNCTION</text><text transform="scale(0.95 1)" x="975.789" y="611.0" textLength="186.820" lengthAdjust="spacing">ATHEROSCLEROSIS</text><text transform="scale(0.95 1)" x="975.789" y="636.0" textLength="38.490" lengthAdjust="spacing">CVD</text><text transform="scale(0.95 1)" x="975.789" y="660.0" textLength="171.678" lengthAdjust="spacing">CARDIOVASCULAR</text><text transform="scale(0.95 1)" x="975.789" y="685.0" textLength="108.508" lengthAdjust="spacing">CORONARY</text><text transform="scale(0.95 1)" x="975.789" y="710.0" textLength="77.213" lengthAdjust="spacing">ARTERY</text><text transform="scale(0.95 1)" x="975.789" y="734.0" textLength="89.976" lengthAdjust="spacing">ARTERIAL</text><text transform="scale(0.95 1)" x="975.789" y="759.0" textLength="100.152" lengthAdjust="spacing">VASCULAR</text><text transform="scale(0.95 1)" x="975.789" y="784.0" textLength="129.524" lengthAdjust="spacing">ENDOTHELIAL</text><text transform="scale(0.95 1)" x="975.789" y="809.0" textLength="114.034" lengthAdjust="spacing">INFARCTION</text>
</g>
</svg>
</body></html>
